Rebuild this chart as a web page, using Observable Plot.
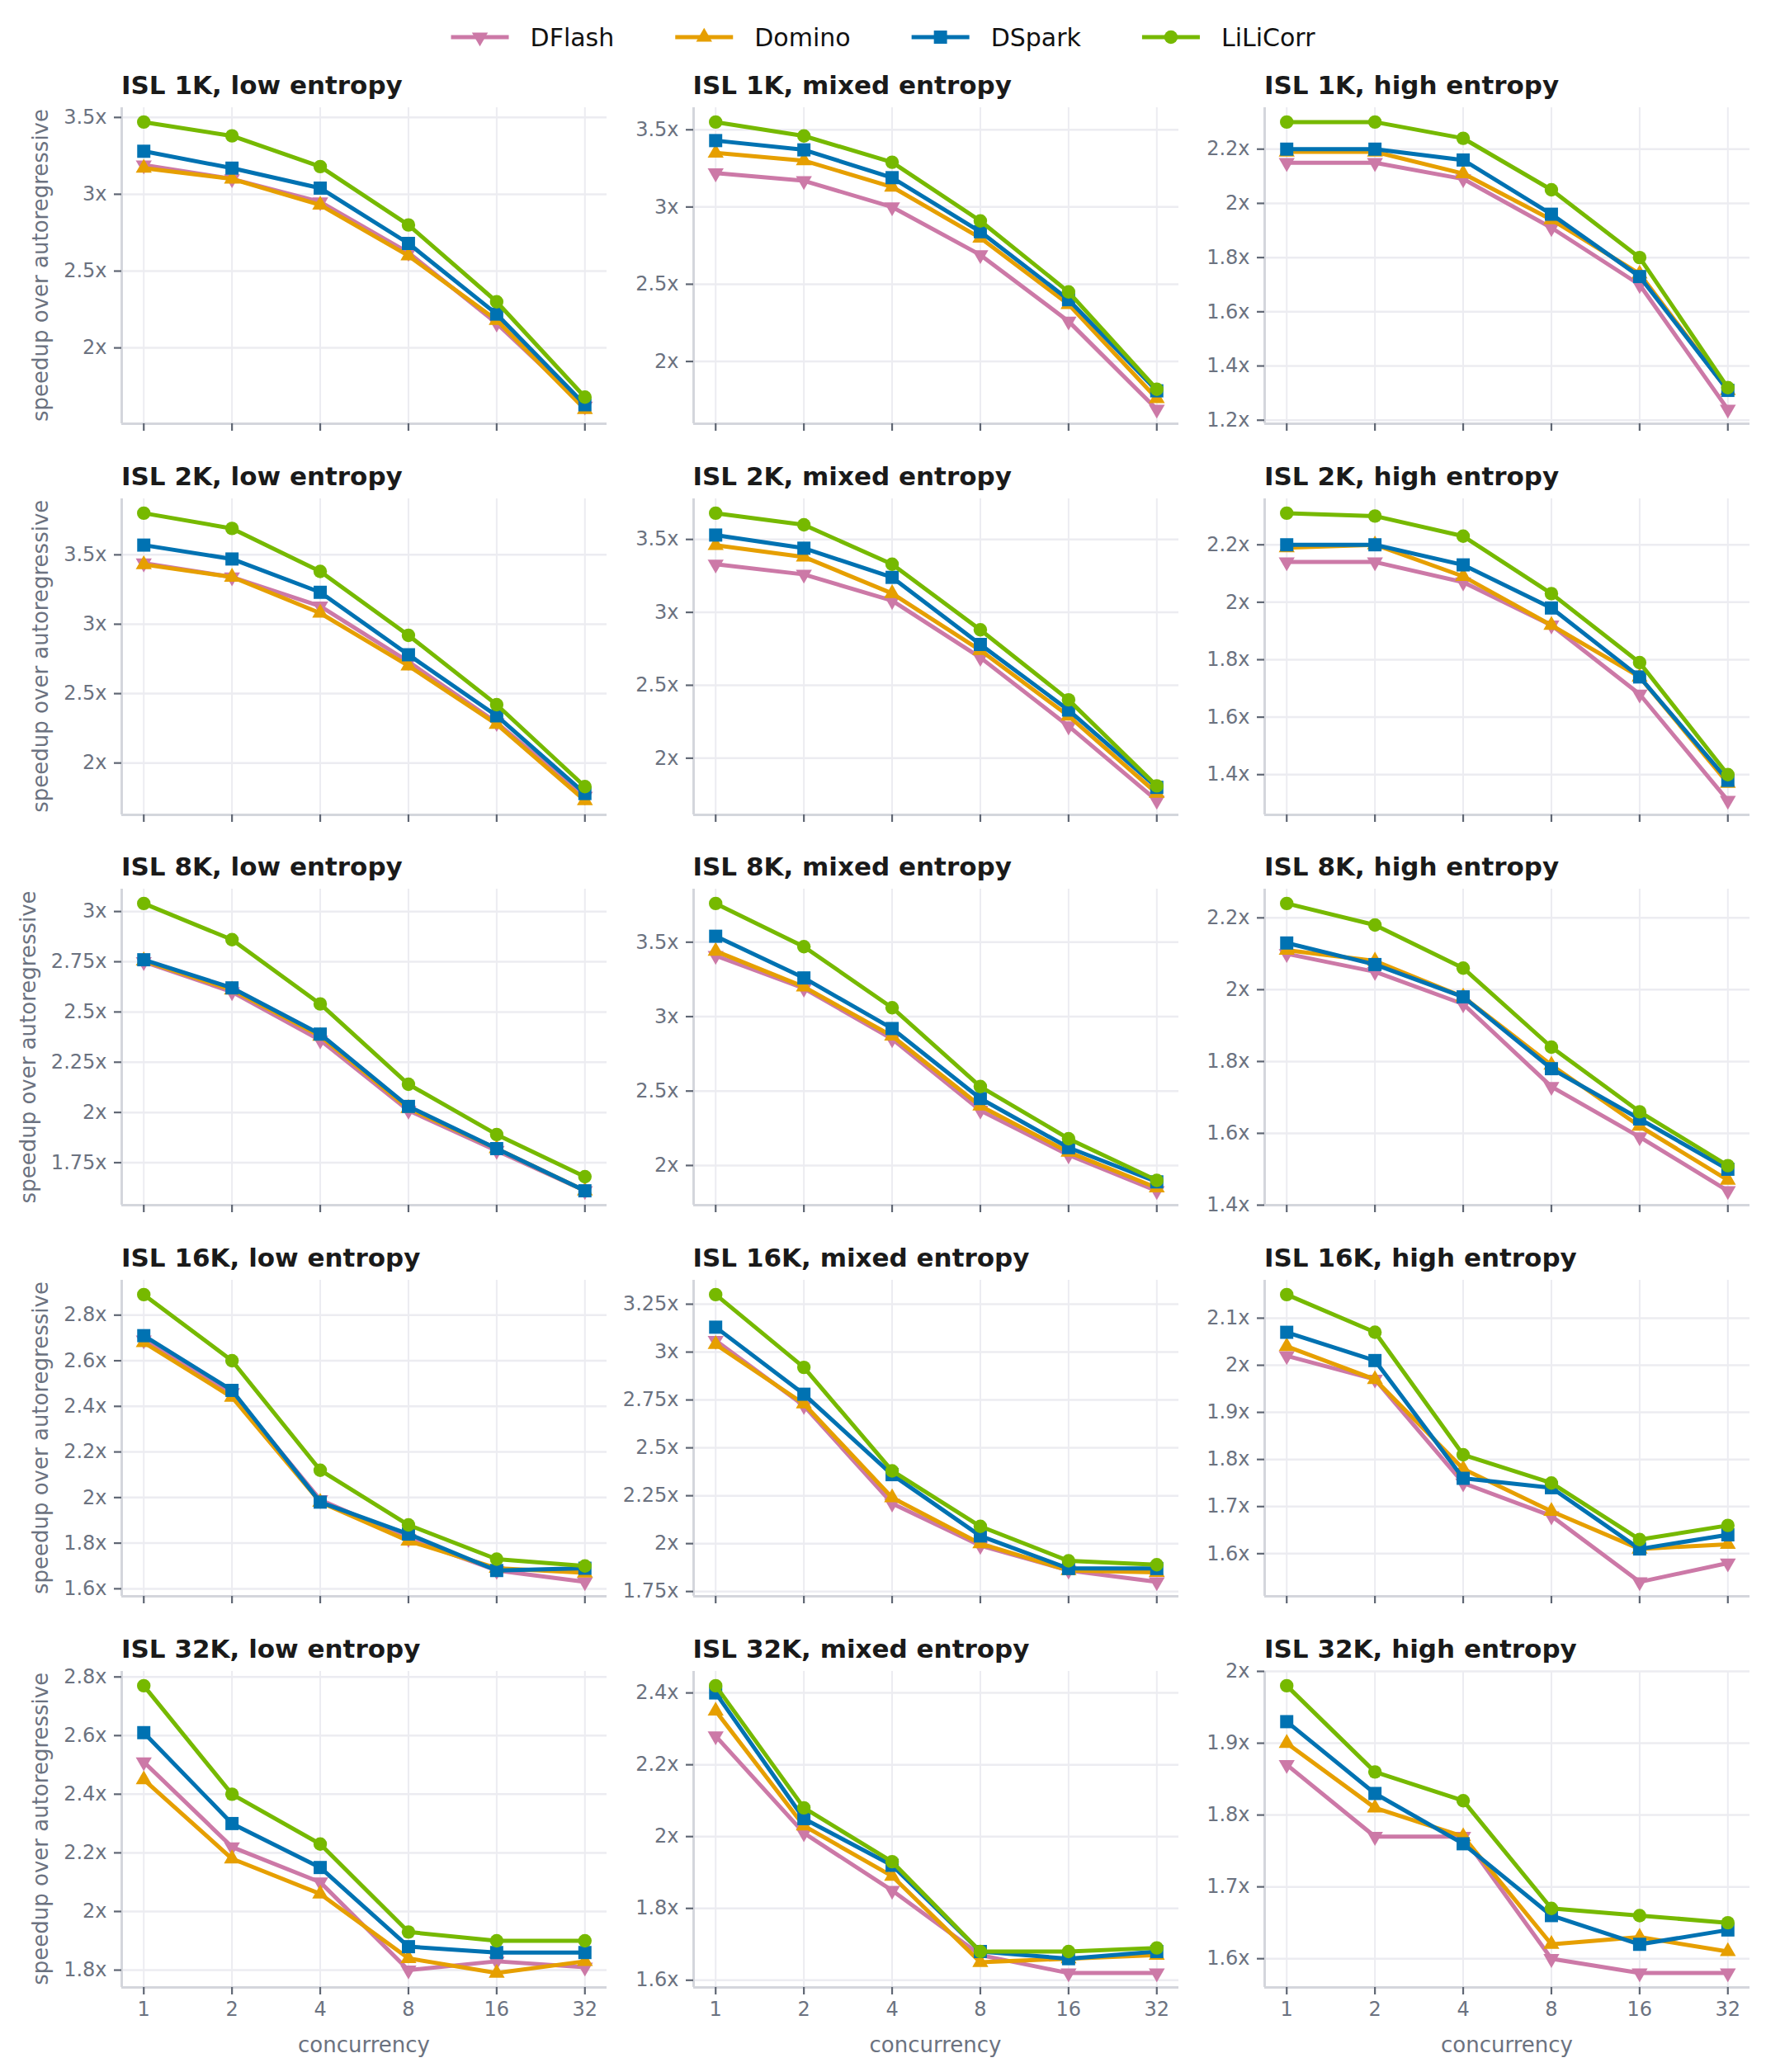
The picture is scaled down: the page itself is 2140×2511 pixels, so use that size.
<!DOCTYPE html>
<html>
<head>
<meta charset="utf-8">
<script src="https://cdn.jsdelivr.net/npm/d3@7"></script>
<script src="https://cdn.jsdelivr.net/npm/@observablehq/plot@0.6"></script>
<style>
  html, body { margin: 0; padding: 0; background: #fff; }
  #root { position: relative; width: 2140px; height: 2511px; background: #fff; font-family: "DejaVu Sans", sans-serif; }
  #root svg.panel { position: absolute; }
  #overlay { position: absolute; left: 0; top: 0; pointer-events: none; }
</style>
</head>
<body>
<div id="root"></div>
<script>
// ---------------- data ----------------
const concurrency = [1, 2, 4, 8, 16, 32];
const seriesNames = ["DFlash", "Domino", "DSpark", "LiLiCorr"];
const seriesColors = ["#cc79a7", "#e69f00", "#0072b2", "#76b900"];
const islLabels = ["1K", "2K", "8K", "16K", "32K"];
const entropyLabels = ["low", "mixed", "high"];

// one row per panel: ISL 1K low, 1K mixed, 1K high, 2K low, ... 32K high
const DFlash = [
  [3.19, 3.10, 2.95, 2.62, 2.16, 1.62],
  [3.22, 3.17, 3.00, 2.69, 2.26, 1.69],
  [2.15, 2.15, 2.09, 1.91, 1.70, 1.24],
  [3.44, 3.34, 3.13, 2.73, 2.29, 1.76],
  [3.33, 3.26, 3.08, 2.69, 2.22, 1.71],
  [2.14, 2.14, 2.07, 1.92, 1.68, 1.31],
  [2.75, 2.60, 2.36, 2.01, 1.81, 1.61],
  [3.41, 3.19, 2.85, 2.37, 2.07, 1.83],
  [2.10, 2.05, 1.96, 1.73, 1.59, 1.44],
  [2.69, 2.46, 1.99, 1.82, 1.68, 1.63],
  [3.06, 2.72, 2.21, 1.99, 1.86, 1.80],
  [2.02, 1.97, 1.75, 1.68, 1.54, 1.58],
  [2.51, 2.22, 2.10, 1.80, 1.83, 1.81],
  [2.28, 2.01, 1.85, 1.67, 1.62, 1.62],
  [1.87, 1.77, 1.77, 1.60, 1.58, 1.58]
];
const Domino = [
  [3.17, 3.10, 2.93, 2.60, 2.18, 1.60],
  [3.35, 3.30, 3.13, 2.80, 2.37, 1.76],
  [2.19, 2.19, 2.11, 1.94, 1.74, 1.31],
  [3.43, 3.34, 3.08, 2.70, 2.28, 1.73],
  [3.46, 3.38, 3.13, 2.74, 2.29, 1.76],
  [2.19, 2.20, 2.09, 1.92, 1.74, 1.37],
  [2.755, 2.61, 2.38, 2.02, 1.82, 1.61],
  [3.44, 3.20, 2.87, 2.40, 2.09, 1.85],
  [2.11, 2.08, 1.98, 1.79, 1.62, 1.47],
  [2.68, 2.44, 1.98, 1.81, 1.69, 1.67],
  [3.04, 2.73, 2.24, 2.00, 1.86, 1.85],
  [2.04, 1.97, 1.78, 1.69, 1.61, 1.62],
  [2.45, 2.18, 2.06, 1.84, 1.79, 1.83],
  [2.35, 2.03, 1.89, 1.65, 1.66, 1.67],
  [1.90, 1.81, 1.77, 1.62, 1.63, 1.61]
];
const DSpark = [
  [3.28, 3.17, 3.04, 2.68, 2.22, 1.63],
  [3.43, 3.37, 3.19, 2.84, 2.40, 1.81],
  [2.20, 2.20, 2.16, 1.96, 1.73, 1.31],
  [3.57, 3.47, 3.23, 2.78, 2.34, 1.78],
  [3.53, 3.44, 3.24, 2.78, 2.33, 1.80],
  [2.20, 2.20, 2.13, 1.98, 1.74, 1.38],
  [2.76, 2.62, 2.39, 2.03, 1.82, 1.61],
  [3.54, 3.26, 2.92, 2.45, 2.12, 1.89],
  [2.13, 2.07, 1.98, 1.78, 1.64, 1.50],
  [2.71, 2.47, 1.98, 1.84, 1.68, 1.69],
  [3.13, 2.78, 2.36, 2.04, 1.87, 1.87],
  [2.07, 2.01, 1.76, 1.74, 1.61, 1.64],
  [2.61, 2.30, 2.15, 1.88, 1.86, 1.86],
  [2.40, 2.05, 1.92, 1.68, 1.66, 1.68],
  [1.93, 1.83, 1.76, 1.66, 1.62, 1.64]
];
const LiLiCorr = [
  [3.47, 3.38, 3.18, 2.80, 2.30, 1.68],
  [3.55, 3.46, 3.29, 2.91, 2.45, 1.82],
  [2.30, 2.30, 2.24, 2.05, 1.80, 1.32],
  [3.80, 3.69, 3.38, 2.92, 2.42, 1.83],
  [3.68, 3.60, 3.33, 2.88, 2.40, 1.81],
  [2.31, 2.30, 2.23, 2.03, 1.79, 1.40],
  [3.04, 2.86, 2.54, 2.14, 1.89, 1.68],
  [3.76, 3.47, 3.06, 2.53, 2.18, 1.90],
  [2.24, 2.18, 2.06, 1.84, 1.66, 1.51],
  [2.89, 2.60, 2.12, 1.88, 1.73, 1.70],
  [3.30, 2.92, 2.38, 2.09, 1.91, 1.89],
  [2.15, 2.07, 1.81, 1.75, 1.63, 1.66],
  [2.77, 2.40, 2.23, 1.93, 1.90, 1.90],
  [2.42, 2.08, 1.93, 1.68, 1.68, 1.69],
  [1.98, 1.86, 1.82, 1.67, 1.66, 1.65]
];
// y tick values per panel
const yTicks = [
  [2, 2.5, 3, 3.5],
  [2, 2.5, 3, 3.5],
  [1.2, 1.4, 1.6, 1.8, 2, 2.2],
  [2, 2.5, 3, 3.5],
  [2, 2.5, 3, 3.5],
  [1.4, 1.6, 1.8, 2, 2.2],
  [1.75, 2, 2.25, 2.5, 2.75, 3],
  [2, 2.5, 3, 3.5],
  [1.4, 1.6, 1.8, 2, 2.2],
  [1.6, 1.8, 2, 2.2, 2.4, 2.6, 2.8],
  [1.75, 2, 2.25, 2.5, 2.75, 3, 3.25],
  [1.6, 1.7, 1.8, 1.9, 2, 2.1],
  [1.8, 2, 2.2, 2.4, 2.6, 2.8],
  [1.6, 1.8, 2, 2.2, 2.4],
  [1.6, 1.7, 1.8, 1.9, 2]
];
const seriesValues = [DFlash, Domino, DSpark, LiLiCorr];
const yLabel = "speedup over autoregressive";
const xLabel = "concurrency";

// ---------------- layout ----------------
const W = 2140, H = 2511;
const plotW = 588, plotH = 383;
const colLeft = c => 147 + 692.5 * c;
const rowTop = r => 130 + 473.7 * r;
const ML = 110, MR = 6, MT = 12, MB = 50;

const symbolOf = ["triangle", "triangle", "square", "circle"];
const rotateOf = [180, 0, 0, 0];
const rOf = [7.2, 7.2, 9, 8.2];

const root = document.getElementById("root");
const FONT = "DejaVu Sans";
const GRAY = "#6b7280";
const firstColSvgs = [];

for (let r = 0; r < 5; r++) {
  for (let c = 0; c < 3; c++) {
    const i = r * 3 + c;
    const rows = [];
    seriesValues.forEach((arr, s) => arr[i].forEach((v, k) => rows.push({x: concurrency[k], y: v, s})));
    const lo = d3.min(rows, d => d.y), hi = d3.max(rows, d => d.y);
    const pad = (hi - lo) * 0.05;
    const yDomain = [lo - pad, hi + pad];
    const xDomain = [Math.pow(2, -0.25), Math.pow(2, 5.25)];
    const bottom = r === 4;

    const marks = [
      Plot.ruleX(concurrency, {stroke: "#ececf1", strokeWidth: 2}),
      Plot.ruleY(yTicks[i], {stroke: "#ececf1", strokeWidth: 2.5}),
      Plot.ruleX([xDomain[0]], {stroke: "#d4d6dc", strokeWidth: 3}),
      Plot.ruleY([yDomain[0]], {stroke: "#d4d6dc", strokeWidth: 3}),
      Plot.axisX({ticks: concurrency, tickFormat: bottom ? (d => String(d)) : (() => ""), tickSize: 9, tickPadding: 8, label: null, strokeWidth: 2.2, stroke: "#5f6673", fill: GRAY}),
      Plot.axisY({ticks: yTicks[i], tickFormat: v => String(v) + "x", tickSize: 9, tickPadding: 9, label: null, strokeWidth: 2.2, stroke: "#5f6673", fill: GRAY})
    ];
    seriesNames.forEach((name, s) => {
      const data = rows.filter(d => d.s === s);
      marks.push(Plot.line(data, {x: "x", y: "y", stroke: seriesColors[s], strokeWidth: 5}));
      marks.push(Plot.dot(data, {x: "x", y: "y", fill: seriesColors[s], symbol: symbolOf[s], rotate: rotateOf[s], r: rOf[s], stroke: "none"}));
    });

    const svg = Plot.plot({
      width: plotW + ML + MR,
      height: plotH + MT + MB,
      marginLeft: ML, marginRight: MR, marginTop: MT, marginBottom: MB,
      x: {type: "log", base: 2, domain: xDomain},
      y: {domain: yDomain},
      style: {fontFamily: FONT, fontSize: "24px", color: GRAY, background: "transparent", overflow: "visible"},
      marks
    });
    svg.classList.add("panel");
    svg.style.left = (colLeft(c) - ML) + "px";
    svg.style.top = (rowTop(r) - MT) + "px";
    root.appendChild(svg);
    if (c === 0) firstColSvgs.push(svg);
  }
}

// ---------------- overlay texts and legend ----------------
const ov = d3.select(root).append("svg").attr("id", "overlay").attr("width", W).attr("height", H)
  .style("font-family", FONT);

for (let r = 0; r < 5; r++) {
  for (let c = 0; c < 3; c++) {
    ov.append("text")
      .attr("x", colLeft(c)).attr("y", rowTop(r) - 16)
      .attr("font-size", 31).attr("font-weight", "bold").attr("fill", "#1a1a1a")
      .text(`ISL ${islLabels[r]}, ${entropyLabels[c]} entropy`);
  }
  // place the y label left of the widest tick label of this row
  const svg = firstColSvgs[r];
  const svgLeft = colLeft(0) - ML;
  let minX = Infinity;
  svg.querySelectorAll("text").forEach(t => {
    if (!t.textContent.endsWith("x")) return;
    const b = t.getBBox();
    const ctm = t.getCTM();
    const x0 = (ctm ? ctm.e : 0) + b.x;
    if (x0 < minX) minX = x0;
  });
  const labelX = isFinite(minX) ? svgLeft + minX - 19 : 56;
  const cy = rowTop(r) + plotH / 2;
  ov.append("text")
    .attr("transform", `translate(${labelX},${cy}) rotate(-90)`)
    .attr("text-anchor", "middle").attr("font-size", 26).attr("fill", GRAY)
    .text(yLabel);
}
for (let c = 0; c < 3; c++) {
  ov.append("text")
    .attr("x", colLeft(c) + plotW / 2).attr("y", rowTop(4) + plotH + 79)
    .attr("text-anchor", "middle").attr("font-size", 26).attr("fill", GRAY)
    .text(xLabel);
}

// legend
const legY = 45, swW = 70, swGap = 26, itemGap = 74;
const leg = ov.append("g");
let xCursor = 0;
const legendSymbols = [d3.symbolTriangle, d3.symbolTriangle, d3.symbolSquare, d3.symbolCircle];
seriesNames.forEach((name, s) => {
  const g = leg.append("g").attr("transform", `translate(${xCursor},0)`);
  g.append("line").attr("x1", 0).attr("x2", swW).attr("y1", legY).attr("y2", legY)
    .attr("stroke", seriesColors[s]).attr("stroke-width", 5);
  const rr = rOf[s];
  g.append("path")
    .attr("d", d3.symbol(legendSymbols[s], Math.PI * rr * rr)())
    .attr("transform", `translate(${swW / 2},${legY}) rotate(${rotateOf[s]})`)
    .attr("fill", seriesColors[s]);
  const t = g.append("text").attr("x", swW + swGap).attr("y", legY).attr("dy", "0.36em")
    .attr("font-size", 30).attr("fill", "#111").text(name);
  const tw = t.node().getComputedTextLength();
  xCursor += swW + swGap + tw + itemGap;
});
const totalW = xCursor - itemGap;
leg.attr("transform", `translate(${(W - totalW) / 2},0)`);
</script>
</body>
</html>
